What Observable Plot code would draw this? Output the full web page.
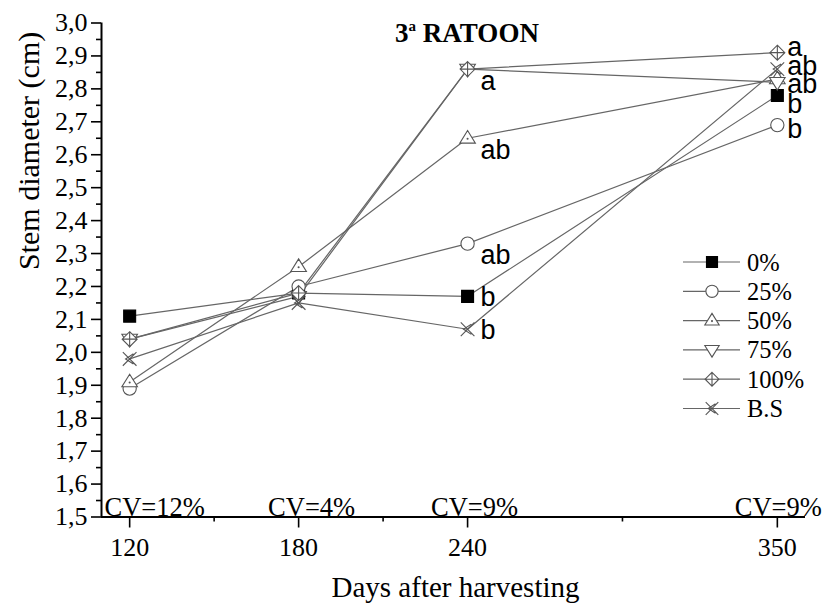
<!DOCTYPE html>
<html><head><meta charset="utf-8">
<script src="https://cdn.jsdelivr.net/npm/d3@7"></script>
<script src="https://cdn.jsdelivr.net/npm/@observablehq/plot@0.6"></script>
<style>
body{margin:0;background:#fff;}
#wrap{position:relative;width:826px;height:605px;}
#wrap svg{display:block}
#overlay{position:absolute;left:0;top:0;pointer-events:none}
</style></head><body><div id="wrap"></div>
<script>
// ---- data ----
const days = [120, 180, 240, 350];
const series = ["0%", "25%", "50%", "75%", "100%", "B.S"];
const v0   = [2.11, 2.18, 2.17, 2.78];
const v25  = [1.89, 2.20, 2.33, 2.69];
const v50  = [1.91, 2.26, 2.65, 2.83];
const v75  = [2.04, 2.17, 2.86, 2.82];
const v100 = [2.04, 2.18, 2.86, 2.91];
const vBS  = [1.98, 2.15, 2.07, 2.86];
const letters240 = ["b", "ab", "ab", "", "a", "b"];
const letters350 = ["b", "b", "", "ab", "a", "ab"];
const cvLabels = ["CV=12%", "CV=4%", "CV=9%", "CV=9%"];
const yTicks = d3.range(15, 31).map(d => d / 10);
const yMinor = d3.range(15, 30).map(d => d / 10 + 0.05);
const xMinor = [150, 210, 295];
const xDomain = [110, 360];
const yDomain = [1.5, 3.0];
const title = ["3", "a", " RATOON"];
const xTitle = "Days after harvesting";
const yTitle = "Stem diameter (cm)";

const values = [v0, v25, v50, v75, v100, vBS];
const rows = [];
series.forEach((s, i) => days.forEach((d, j) => rows.push({series: s, si: i, day: d, value: values[i][j]})));

// ---- layout (offsets, not data) ----
const off240 = [10, 20, 21, 0, 21, 10];
const off350 = [18, 13, 0, 11, 3, 6];
const cvDx = [25, 13, 7, 1];

// ---- symbols ----
const R = s => Math.sqrt(s / Math.PI);
const sqSym = {draw(c, s) { const r = R(s) * 0.92; c.rect(-r, -r, 2 * r, 2 * r); }};
const circSym = {draw(c, s) { const r = R(s) * 1.02; c.moveTo(r, 0); c.arc(0, 0, r, 0, 2 * Math.PI); }};
const triUp = {draw(c, s) { const r = R(s) * 1.2; c.moveTo(0, -r); c.lineTo(r * 1.0, r * 0.62); c.lineTo(-r * 1.0, r * 0.62); c.closePath(); c.moveTo(0.5, 0.5); c.arc(0, 0.5, 0.5, 0, 2 * Math.PI); }};
const triDown = {draw(c, s) { const r = R(s) * 1.2; c.moveTo(0, r); c.lineTo(r * 1.0, -r * 0.62); c.lineTo(-r * 1.0, -r * 0.62); c.closePath(); }};
const diaPlus = {draw(c, s) { const r = R(s) * 1.15; c.moveTo(0, -r); c.lineTo(r, 0); c.lineTo(0, r); c.lineTo(-r, 0); c.closePath(); c.moveTo(0, -r); c.lineTo(0, r); c.moveTo(-r, 0); c.lineTo(r, 0); }};
const xSym = {draw(c, s) { const r = R(s) * 1.05; c.moveTo(-r, -r); c.lineTo(r, r); c.moveTo(-r, r); c.lineTo(r, -r); c.moveTo(r * 0.55, -r * 0.75); c.lineTo(-r * 0.6, 0); c.lineTo(r * 0.55, r * 0.75); }};
const symbols = [sqSym, circSym, triUp, triDown, diaPlus, xSym];
const fills = ["black", "white", "white", "white", "white", "none"];
const strokes = ["black", "#555", "#555", "#555", "#555", "#555"];

const fmt = d => d.toFixed(1).replace(".", ",");
const serif = "Liberation Serif, Times New Roman, serif";
const sans = "Liberation Sans, Arial, sans-serif";

const lab240 = rows.filter(r => r.day === 240 && letters240[r.si]);
const lab350 = rows.filter(r => r.day === 350 && letters350[r.si]);
const cvRows = days.map((d, i) => ({day: d, cv: cvLabels[i], dx: cvDx[i]}));

const marks = [
  Plot.axisY(yTicks, {tickSize: 10, tickPadding: 4, tickFormat: fmt, fontSize: 26, fontFamily: serif, strokeWidth: 1.6, label: null}),
  Plot.axisY(yMinor, {tickSize: 5, tickFormat: () => "", strokeWidth: 1.6, label: null}),
  Plot.axisX(days, {tickSize: 11, tickPadding: 10, tickFormat: d => String(d), fontSize: 26, fontFamily: serif, strokeWidth: 1.6, label: null}),
  Plot.axisX(xMinor, {tickSize: 5, tickFormat: () => "", strokeWidth: 1.6, label: null}),
  Plot.ruleX([xDomain[0]], {y1: yDomain[0], y2: yDomain[1], stroke: "black", strokeWidth: 2}),
  Plot.ruleY([yDomain[0]], {x1: xDomain[0], x2: xDomain[1], stroke: "black", strokeWidth: 2}),
  Plot.line(rows, {x: "day", y: "value", z: "series", stroke: "#666", strokeWidth: 1.2}),
  ...series.map((s, i) => Plot.dot(rows.filter(r => r.si === i), {x: "day", y: "value", symbol: symbols[i], r: 6.5, fill: fills[i], stroke: strokes[i], strokeWidth: 1.1})),
  ...lab240.map(r => Plot.text([r], {x: "day", y: "value", text: d => letters240[d.si], textAnchor: "start", lineAnchor: "bottom", dx: 13, dy: off240[r.si], fontFamily: sans, fontSize: 27, fill: "black"})),
  ...lab350.map(r => Plot.text([r], {x: "day", y: "value", text: d => letters350[d.si], textAnchor: "start", lineAnchor: "bottom", dx: 10, dy: off350[r.si], fontFamily: sans, fontSize: 27, fill: "black"})),
  ...cvRows.map(r => Plot.text([r], {x: "day", text: "cv", frameAnchor: "bottom", lineAnchor: "bottom", dy: -1, dx: r.dx, textAnchor: "middle", fontFamily: serif, fontSize: 26.5, fill: "black"})),
  Plot.text([yTitle], {frameAnchor: "left", dx: -72, rotate: -90, fontFamily: serif, fontSize: 30, fill: "black"}),
  Plot.text([xTitle], {frameAnchor: "bottom", dy: 80, dx: 2, fontFamily: serif, fontSize: 29, fill: "black"})
];

const chart = Plot.plot({
  width: 826, height: 605,
  marginLeft: 101, marginRight: 21, marginTop: 22.5, marginBottom: 88.5,
  x: {domain: xDomain},
  y: {domain: yDomain},
  style: {background: "white", color: "black", overflow: "visible"},
  marks
});
document.getElementById("wrap").appendChild(chart);

// ---- overlay: title + legend ----
const ov = d3.select("#wrap").append("svg").attr("id", "overlay").attr("width", 826).attr("height", 605);
const t = ov.append("text").attr("x", 467).attr("y", 42).attr("text-anchor", "middle")
  .attr("font-family", serif).attr("font-weight", "bold").attr("font-size", 27);
t.append("tspan").text(title[0]);
t.append("tspan").attr("font-size", 15).attr("dy", -11).text(title[1]);
t.append("tspan").attr("dy", 11).text(title[2]);

series.forEach((s, i) => {
  const y = 262 + i * 29.3;
  const g = ov.append("g");
  g.append("line").attr("x1", 683).attr("x2", 740).attr("y1", y).attr("y2", y).attr("stroke", "#666").attr("stroke-width", 1.2);
  g.append("path").attr("transform", `translate(712,${y})`).attr("d", d3.symbol(symbols[i], Math.PI * 36)())
    .attr("fill", fills[i]).attr("stroke", strokes[i]).attr("stroke-width", 1.1);
  g.append("text").attr("x", 747).attr("y", y + 8.5).attr("font-family", serif).attr("font-size", 24.5).attr("fill", "black").text(s);
});
</script></body></html>
